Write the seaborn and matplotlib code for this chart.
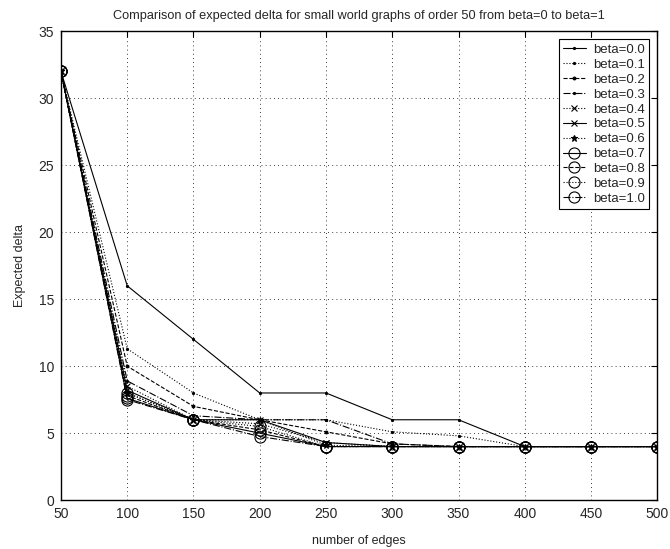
import matplotlib
matplotlib.use("Agg")
import matplotlib.pyplot as plt
import numpy as np
import pandas as pd
import seaborn as sns

sns.set_style("white")
plt.rcParams["font.family"] = ["Liberation Sans", "DejaVu Sans"]

# number of edges
edges = [50, 100, 150, 200, 250, 300, 350, 400, 450, 500]

# expected delta per beta
beta_00 = [32, 16.0, 12.0, 8.0, 8.0, 6.0, 6.0, 4, 4, 4]
beta_01 = [32, 11.3, 8.0, 6.0, 6.0, 5.1, 4.8, 4, 4, 4]
beta_02 = [32, 10.0, 7.0, 6.0, 5.1, 4.2, 4.0, 4, 4, 4]
beta_03 = [32, 8.9, 6.3, 6.0, 6.0, 4.2, 4.0, 4, 4, 4]
beta_04 = [32, 8.5, 6.0, 5.7, 4.3, 4.0, 4.0, 4, 4, 4]
beta_05 = [32, 8.2, 6.0, 6.0, 4.3, 4.0, 4.0, 4, 4, 4]
beta_06 = [32, 8.0, 6.0, 6.0, 4.1, 4.0, 4.0, 4, 4, 4]
beta_07 = [32, 7.6, 6.0, 5.0, 4.0, 4.0, 4.0, 4, 4, 4]
beta_08 = [32, 7.8, 6.0, 5.25, 4.0, 4.0, 4.0, 4, 4, 4]
beta_09 = [32, 8.0, 6.0, 5.5, 4.0, 4.0, 4.0, 4, 4, 4]
beta_10 = [32, 7.5, 6.0, 4.75, 4.0, 4.0, 4.0, 4, 4, 4]

series = {
    "beta=0.0": beta_00, "beta=0.1": beta_01, "beta=0.2": beta_02,
    "beta=0.3": beta_03, "beta=0.4": beta_04, "beta=0.5": beta_05,
    "beta=0.6": beta_06, "beta=0.7": beta_07, "beta=0.8": beta_08,
    "beta=0.9": beta_09, "beta=1.0": beta_10,
}

# matlab-ish marker / line style cycle
styles = [
    (".", "-", 3), (".", ":", 3), (".", "--", 4), (".", "-.", 3),
    ("x", ":", 5), ("x", "-", 5), ("*", ":", 5),
    ("o", "-", 8), ("o", "--", 8), ("o", ":", 8), ("o", "-.", 8),
]

fig = plt.figure(figsize=(6.7, 5.49), dpi=100)
ax = fig.add_axes([0.091, 0.089, 0.890, 0.854])

for (label, vals), (mk, ls, ms) in zip(series.items(), styles):
    sns.lineplot(x=edges, y=vals, ax=ax, color="black", marker=mk,
                 linestyle=ls, markersize=ms, linewidth=0.8,
                 markerfacecolor="none" if mk == "o" else "black",
                 markeredgecolor="black", markeredgewidth=0.8, label=label)

ax.set_xlim(50, 500)
ax.set_ylim(0, 35)
ax.set_xticks(np.arange(50, 501, 50))
ax.set_yticks(np.arange(0, 36, 5))
ax.grid(True, color="black", linestyle=(0, (1, 4)), linewidth=0.6)
ax.tick_params(direction="in", top=True, right=True, length=4, labelsize=10,
               color="black", pad=5)
for sp in ax.spines.values():
    sp.set_color("black")
    sp.set_linewidth(1.0)

ax.set_xlabel("number of edges", fontsize=9, labelpad=10)
ax.set_ylabel("Expected delta", fontsize=9, labelpad=9)
ax.set_title("Comparison of expected delta for small world graphs of order 50 "
             "from beta=0 to beta=1", fontsize=9.2, pad=9)

leg = ax.legend(loc="upper right", fontsize=9.5, handlelength=1.7,
                handletextpad=0.55, labelspacing=0.2, borderpad=0.35,
                fancybox=False, framealpha=1, edgecolor="black",
                borderaxespad=0.6)
leg.get_frame().set_linewidth(0.8)

fig.savefig("out.png", dpi=100)
